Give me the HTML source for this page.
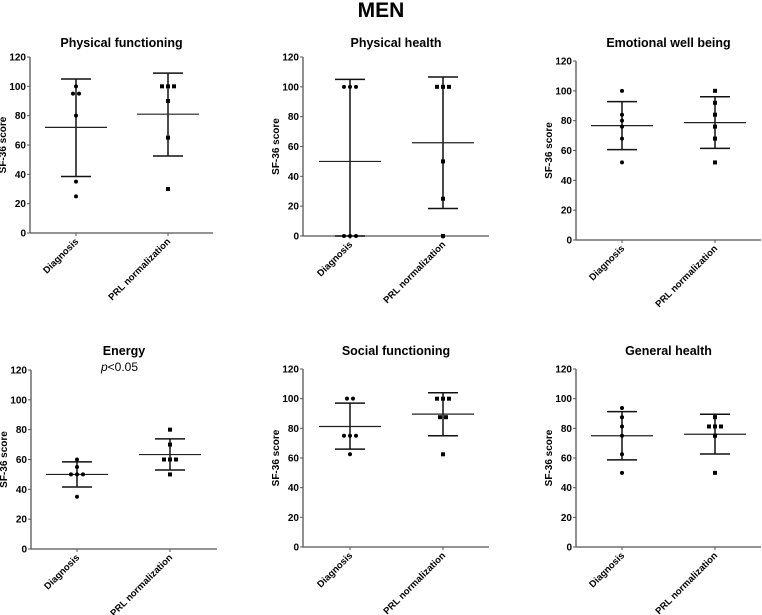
<!DOCTYPE html>
<html><head><meta charset="utf-8">
<style>
body{margin:0;background:#fff;}
svg{display:block;font-family:"Liberation Sans",Arial,sans-serif;}
</style></head>
<body>
<svg id="chart" width="762" height="615" viewBox="0 0 762 615">
<text x="381" y="17" text-anchor="middle" font-size="21" font-weight="bold">MEN</text>
</svg>
<script>
const titles = ["Physical functioning","Physical health","Emotional well being","Energy","Social functioning","General health"];
const groups = ["Diagnosis","PRL normalization"];
const yTicks = [0,20,40,60,80,100,120];
const dxValues = [
 [100,95,95,80,35,25],
 [100,100,100,0,0,0],
 [100,84,80,76,68,52],
 [60,55,50,50,50,35],
 [100,100,75,75,75,62.5],
 [93.75,87.5,81.25,75,62.5,50]
];
const prlValues = [
 [100,100,100,90,65,30],
 [100,100,100,50,25,0],
 [100,92,84,76,68,52],
 [80,70,60,60,60,50],
 [100,100,100,87.5,87.5,62.5],
 [87.5,81.25,81.25,81.25,75,50]
];
const dxMean = [72,50,76.7,50,81.25,75];
const dxUpper = [105,105,92.8,58.4,97,91.3];
const dxLower = [38.5,0,60.6,41.6,66,58.7];
const prlMean = [81,62.5,78.7,63.3,89.6,76];
const prlUpper = [109,106.6,96,73.8,104,89.5];
const prlLower = [52.5,18.4,61.4,53,75,62.7];
const notes = ["","","","p<0.05","",""];

const layout = [
 {ax:30,top:57,bot:233,xend:213,x1:76,x2:168,ty:47},
 {ax:303,top:57,bot:236,xend:489,x1:350,x2:443,ty:47},
 {ax:576,top:61,bot:240,xend:761,x1:622,x2:715,ty:47},
 {ax:31,top:370,bot:549,xend:217,x1:77,x2:170,ty:355},
 {ax:303,top:369,bot:547,xend:489,x1:350,x2:443,ty:355},
 {ax:576,top:369,bot:547,xend:761,x1:622,x2:715,ty:355}
];
const NS="http://www.w3.org/2000/svg";
const svg=document.getElementById('chart');
function mk(tag,attrs,parent){const e=document.createElementNS(NS,tag);for(const k in attrs)e.setAttribute(k,attrs[k]);(parent||svg).appendChild(e);return e;}

titles.forEach((t,i)=>{
  const L=layout[i];
  const g=mk('g',{});
  
  
  const y=v=>L.bot-(v/120)*(L.bot-L.top);
  const tt=mk('text',{x:(L.ax+L.xend)/2,y:L.ty,'text-anchor':'middle','font-size':'12.5','font-weight':'bold'},g);
  tt.textContent=t;
  
  
  if(notes[i]){
    const n=mk('text',{x:(L.x1+L.x2)/2-4,y:L.ty+16,'text-anchor':'middle','font-size':'12'},g);
    n.innerHTML='<tspan font-style="italic">p</tspan>&lt;0.05';
    
    
  }
  const ya=mk('line',{x1:L.ax,y1:L.top,x2:L.ax,y2:L.bot,stroke:'#555','stroke-width':1.3},g);
  
  
  const xa=mk('line',{x1:L.ax,y1:L.bot,x2:L.xend,y2:L.bot,stroke:'#555','stroke-width':1.3},g);
  
  
  yTicks.forEach(v=>{
    mk('line',{x1:L.ax-3,y1:y(v),x2:L.ax,y2:y(v),stroke:'#555'},g);
    const tl=mk('text',{x:L.ax-4,y:y(v)+3.5,'text-anchor':'end','font-size':'10','font-weight':'bold'},g);
    tl.textContent=v;
    
    
  });
  const yl=mk('text',{x:0,y:0,'text-anchor':'middle','font-size':'10','font-weight':'bold',transform:`translate(${L.ax-24},${(L.top+L.bot)/2}) rotate(-90)`},g);
  yl.textContent='SF-36 score';
  
  
  [L.x1,L.x2].forEach((gx,k)=>{
    mk('line',{x1:gx,y1:L.bot,x2:gx,y2:L.bot+3,stroke:'#555'},g);
    const xl=mk('text',{x:0,y:0,'text-anchor':'end','font-size':'9.5','font-weight':'bold',transform:`translate(${gx+3},${L.bot+9}) rotate(-45)`},g);
    xl.textContent=groups[k];
    
    
  });
  const sets=[[dxValues[i],dxMean[i],dxUpper[i],dxLower[i],L.x1,'circle'],[prlValues[i],prlMean[i],prlUpper[i],prlLower[i],L.x2,'square']];
  sets.forEach(([vals,m,u,lo,gx,shape],k)=>{
    const eb=mk('g',{stroke:'#111','stroke-width':1.5},g);
    
    
    mk('line',{x1:gx,y1:y(u),x2:gx,y2:y(lo)},eb);
    mk('line',{x1:gx-15,y1:y(u),x2:gx+15,y2:y(u)},eb);
    mk('line',{x1:gx-15,y1:y(lo),x2:gx+15,y2:y(lo)},eb);
    const ml=mk('line',{x1:gx-31,y1:y(m),x2:gx+31,y2:y(m),stroke:'#222','stroke-width':1.2},g);
    
    
    const counts={};vals.forEach(v=>counts[v]=(counts[v]||0)+1);
    const seen={};
    vals.forEach(v=>{
      const n=counts[v];const idx=seen[v]=(seen[v]||0);seen[v]++;
      const px=gx+(idx-(n-1)/2)*6;const py=y(v);
      let d;
      if(shape==='circle') d=mk('circle',{cx:px,cy:py,r:2,fill:'#000'},g);
      else d=mk('rect',{x:px-2,y:py-2,width:4,height:4,fill:'#000'},g);
      
      
    });
  });
});
</script>
</body></html>
